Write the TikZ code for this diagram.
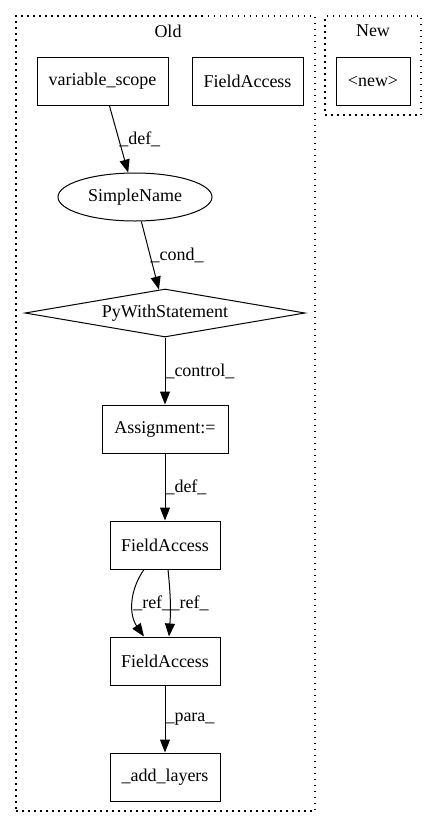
\documentclass[tikz,border=0pt]{standalone}
\usepackage{fontspec}
\setmainfont{Liberation Serif}
\usetikzlibrary{arrows.meta,shapes.geometric,positioning}

\begin{document}
\begin{tikzpicture}[x=1pt,y=-1pt,
    every node/.style={font=\fontsize{18}{21}\selectfont},
    box/.style={draw,line width=1pt,minimum height=48pt,inner sep=0pt},
    cluster/.style={draw,line width=1.2pt,dash pattern=on 1.5pt off 4.5pt,inner sep=0pt},
    lbl/.style={right,inner sep=0pt},
    >={Triangle[length=13pt,width=10pt]}]
    \useasboundingbox (0,0) rectangle (437,828);

    \node[cluster,minimum width=299pt,minimum height=795pt] (old) at (165.5,413.5) {};
    \node[cluster,minimum width=96pt,minimum height=99pt] (new) at (373,65.5) {};
    \node (oldlbl) at (168,31) {Old};
    \node (newlbl) at (373,31) {New};

    \node[box,minimum width=131pt] (vscope) at (102.5,81) {variable\_scope};
    \node[box,minimum width=111pt] (fa0) at (247.5,81) {FieldAccess};
    \node[box,minimum width=74pt] (newnode) at (373,81) {<new>};
    \node[draw,ellipse,line width=1pt,minimum width=154pt,minimum height=48pt,inner sep=0pt] (sname) at (135,197) {SimpleName};
    \node[draw,diamond,aspect=5.83,line width=1pt,minimum width=280pt,minimum height=48pt,inner sep=0pt] (pywith) at (165,313) {PyWithStatement};
    \node[box,minimum width=126pt] (assign) at (165,429) {Assignment:=};
    \node[box,minimum width=110pt] (fa1) at (165,545) {FieldAccess};
    \node[box,minimum width=110pt] (fa2) at (165,661) {FieldAccess};
    \node[box,minimum width=110pt] (addl) at (165,777) {\_add\_layers};

    \path[->,line width=1pt]
    (vscope) edge node[lbl] {\_def\_} (sname)
    (sname) edge node[lbl] {\_cond\_} (pywith)
    (pywith) edge node[lbl] {\_control\_} (assign)
    (assign) edge node[lbl] {\_def\_} (fa1)
    ([xshift=-21pt]fa1.south) edge[bend right=35] node[lbl] {\_ref\_} ([xshift=-21pt]fa2.north)
    ([xshift=3pt]fa1.south) edge[bend left=5] node[lbl] {\_ref\_} ([xshift=4pt]fa2.north)
    (fa2) edge node[lbl] {\_para\_} (addl);
\end{tikzpicture}
\end{document}
